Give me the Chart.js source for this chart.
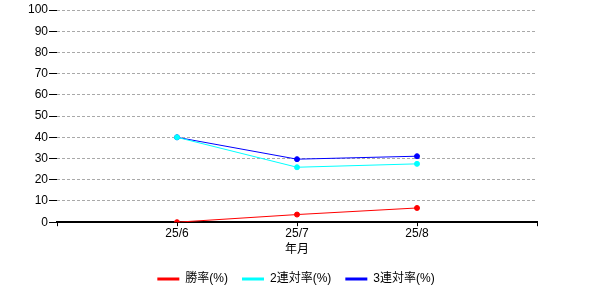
<!DOCTYPE html>
<html lang="ja">
<head>
    <meta charset="UTF-8">
    <title>勝率</title>
    <script src="https://cdn.jsdelivr.net/npm/chart.js"></script>
    <style>
        body { margin: 0; background: #fff; }
    </style>
</head>
<body>
    <canvas id="rateChart" width="600" height="300"></canvas>
    <script>
        // data
        const months = ['25/6', '25/7', '25/8'];
        const winRate = [0, 3.6, 6.7];
        const top2Rate = [40, 25.9, 27.5];
        const top3Rate = [40, 29.7, 31.1];
        const yTicks = [0, 10, 20, 30, 40, 50, 60, 70, 80, 90, 100];

        const FONT = "'Liberation Sans', 'Noto Sans CJK JP', sans-serif";

        // months sit at x = 1..n on a linear axis that runs 0..n+1
        function toPoints(values) {
            return values.map((v, i) => ({ x: i + 1, y: v }));
        }

        function series(label, values, color) {
            return {
                label: label,
                data: toPoints(values),
                borderColor: color,
                backgroundColor: color,
                pointBackgroundColor: color,
                pointBorderColor: color,
                pointRadius: 2.5,
                borderWidth: 1,
                tension: 0
            };
        }

        const ctx = document.getElementById('rateChart').getContext('2d');
        const rateChart = new Chart(ctx, {
            type: 'line',
            data: {
                datasets: [
                    series('勝率(%)', winRate, '#ff0000'),
                    series('2連対率(%)', top2Rate, '#00ffff'),
                    series('3連対率(%)', top3Rate, '#0000ff')
                ]
            },
            options: {
                responsive: false,
                animation: false,
                layout: { padding: { top: 10, right: 8, bottom: 5, left: 0 } },
                plugins: {
                    tooltip: { enabled: false },
                    legend: {
                        position: 'bottom',
                        labels: {
                            color: '#000',
                            font: { family: FONT, size: 12 },
                            usePointStyle: true,
                            pointStyle: 'line',
                            pointStyleWidth: 22,
                            padding: 14,
                            generateLabels: (chart) => {
                                const items = Chart.defaults.plugins.legend.labels.generateLabels(chart);
                                items.forEach(it => { it.lineWidth = 3; it.pointStyle = 'line'; });
                                return items;
                            }
                        }
                    }
                },
                scales: {
                    x: {
                        type: 'linear',
                        min: 0,
                        max: months.length + 1,
                        afterBuildTicks: (axis) => {
                            axis.ticks = [];
                            for (let i = 0; i <= months.length + 1; i++) axis.ticks.push({ value: i });
                        },
                        ticks: {
                            autoSkip: false,
                            maxRotation: 0,
                            color: '#000',
                            padding: 0,
                            font: { family: FONT, size: 12 },
                            callback: (v) => months[v - 1] || ''
                        },
                        grid: {
                            drawOnChartArea: false,
                            tickLength: 4,
                            tickColor: '#000',
                            tickWidth: 1
                        },
                        border: { color: '#000', width: 2 },
                        title: {
                            display: true,
                            text: '年月',
                            color: '#000',
                            font: { family: FONT, size: 12 },
                            padding: { top: 2, bottom: 2 }
                        }
                    },
                    y: {
                        min: 0,
                        max: 100,
                        afterBuildTicks: (axis) => {
                            axis.ticks = yTicks.map(v => ({ value: v }));
                        },
                        afterFit: (axis) => { axis.width = 57; },
                        ticks: {
                            color: '#000',
                            padding: 1,
                            font: { family: FONT, size: 12 }
                        },
                        grid: {
                            color: '#a9a9a9',
                            lineWidth: 1,
                            tickLength: 8,
                            tickColor: '#000',
                            tickWidth: 1,
                            tickBorderDash: []
                        },
                        border: { display: false, dash: [3, 2] }
                    },
                    // empty strip on the right, keeps the legend centred on the page
                    yRight: {
                        position: 'right',
                        min: 0,
                        max: 100,
                        afterFit: (axis) => { axis.width = 55; },
                        ticks: { display: false },
                        grid: { display: false },
                        border: { display: false }
                    }
                }
            }
        });
    </script>
</body>
</html>
